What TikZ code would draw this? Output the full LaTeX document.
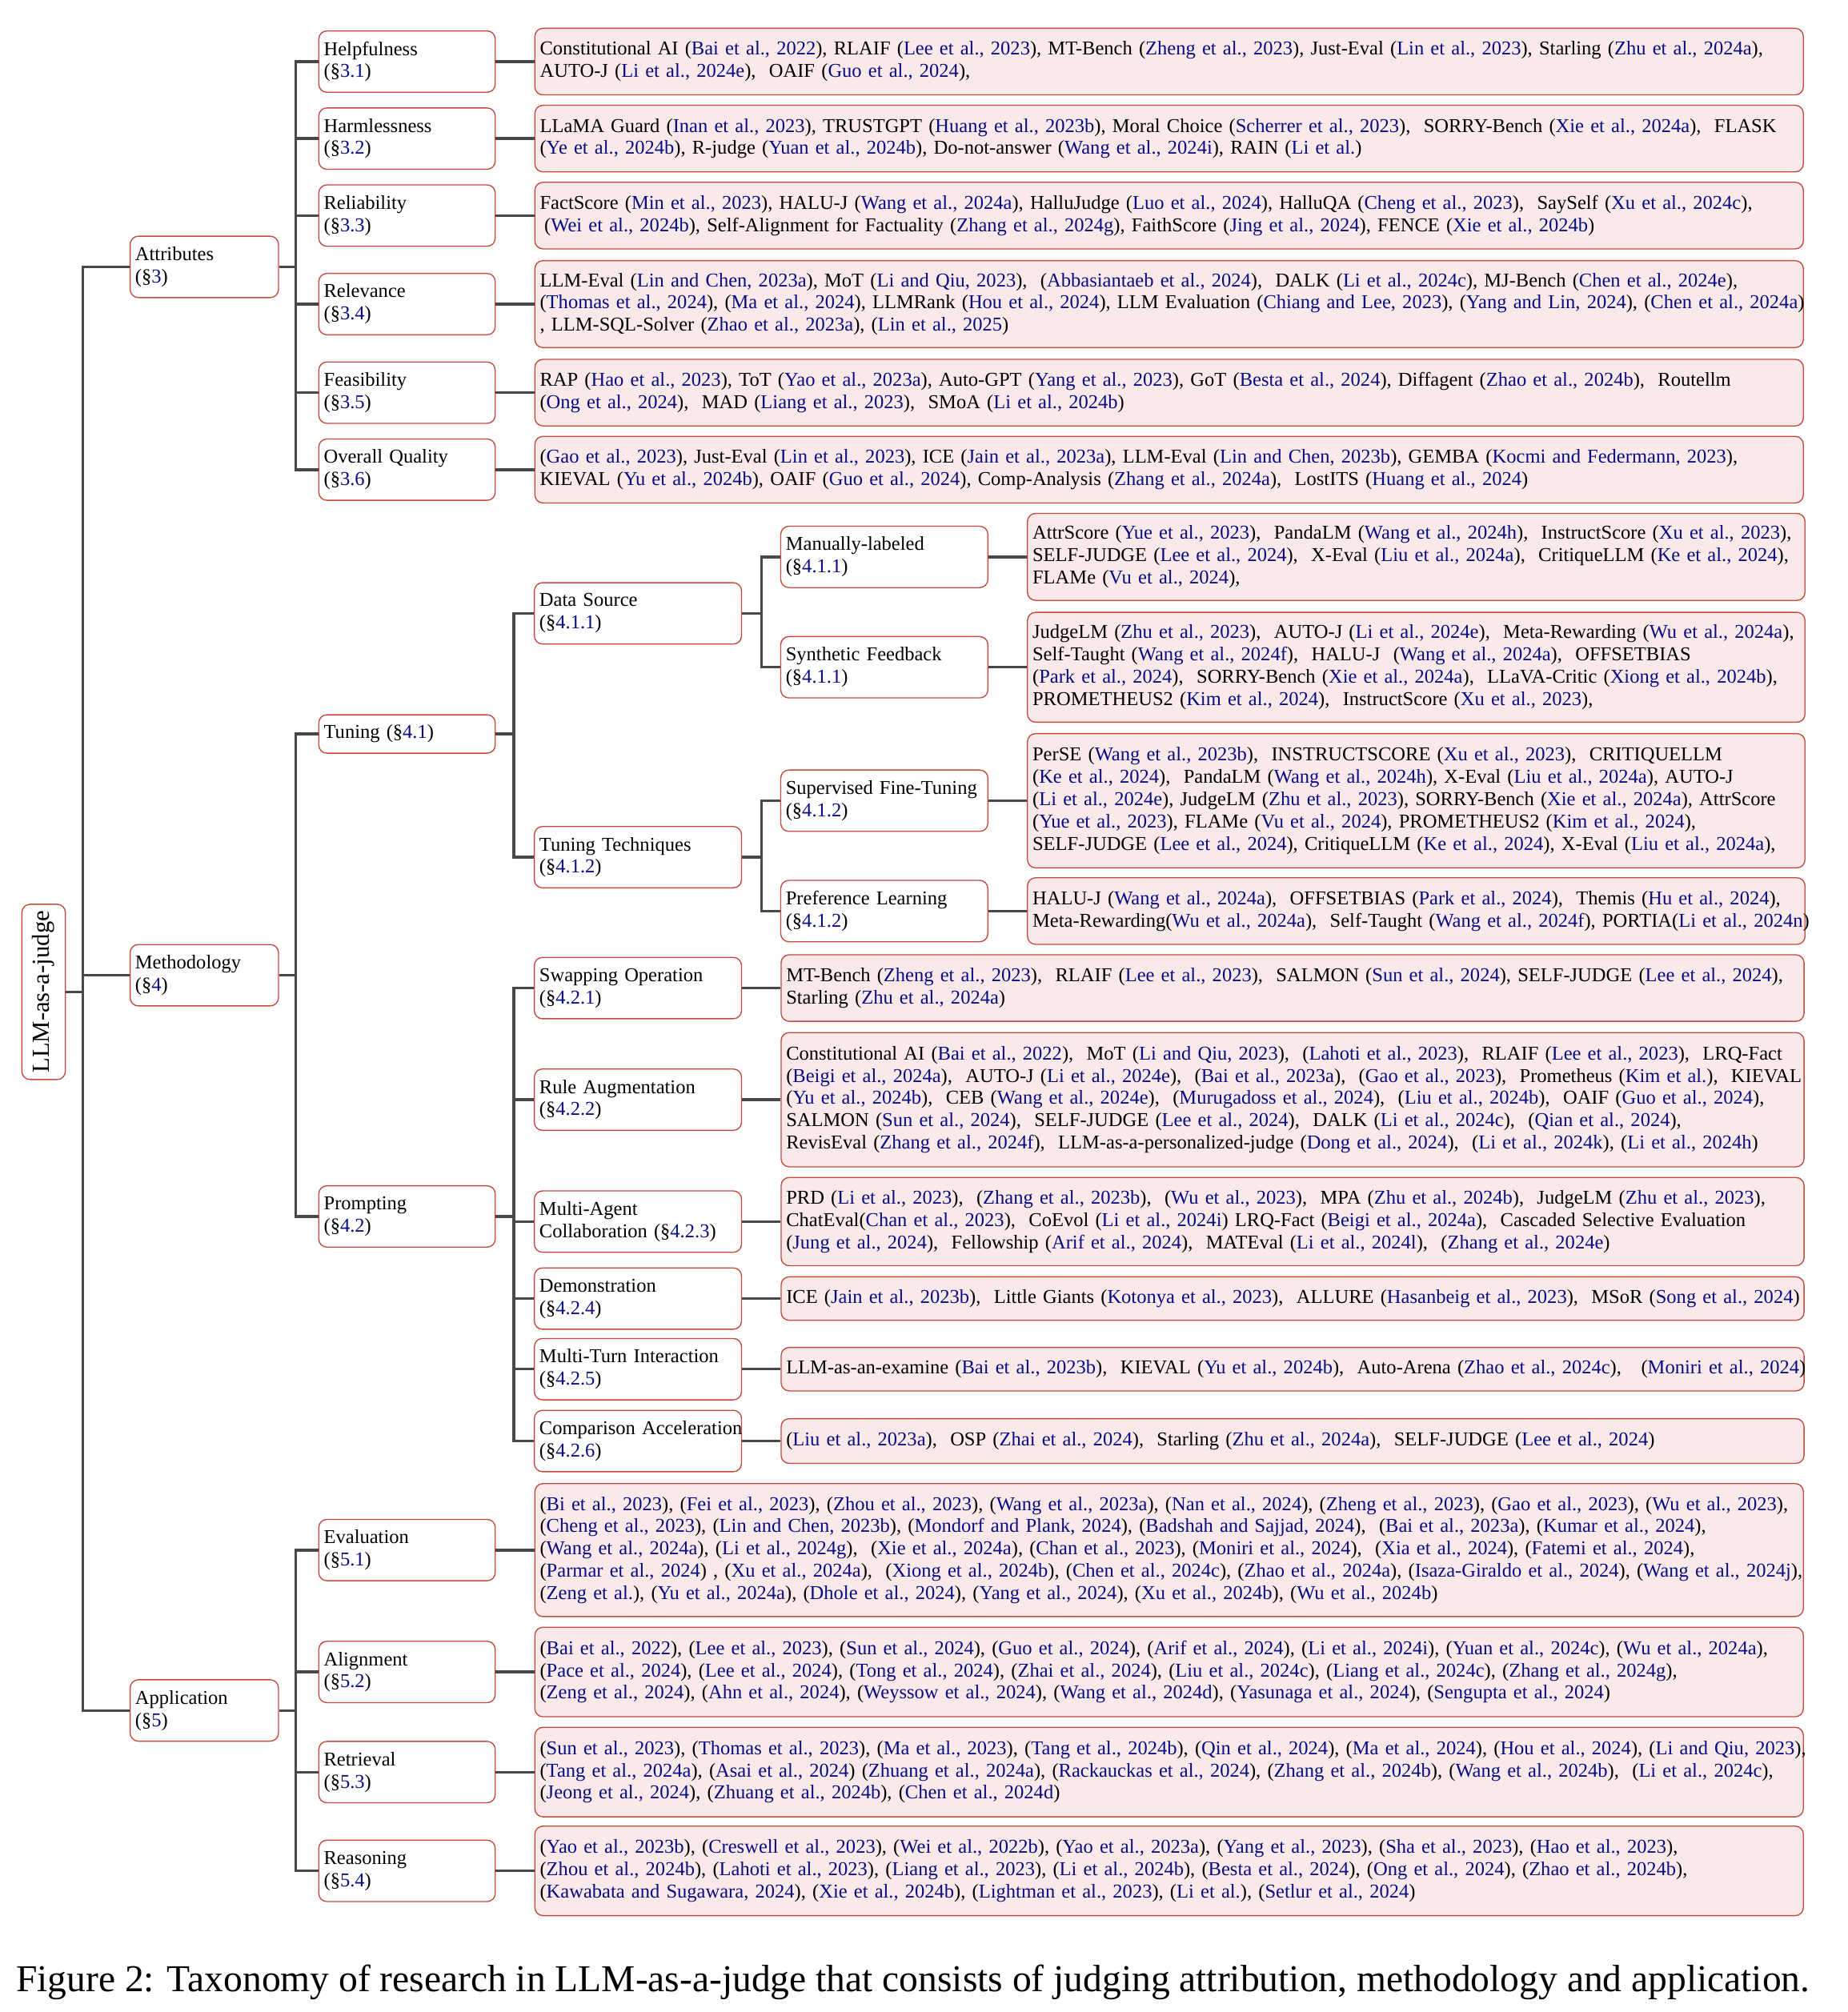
\documentclass[tikz,border=0pt]{standalone}
\usepackage{fontspec}
\setmainfont{Liberation Serif}
\usepackage{graphicx}
\usetikzlibrary{positioning}

\definecolor{boxred}{RGB}{197,74,62}
\definecolor{leafpink}{RGB}{249,234,233}
\definecolor{citeblue}{RGB}{8,12,130}
\definecolor{linegray}{RGB}{72,72,72}

\def\cp#1{(\textcolor{citeblue}{#1})}
\def\sr#1{(\S\textcolor{citeblue}{#1})}

\tikzset{
  box/.style={draw=boxred, line width=0.6pt, rounded corners=4.5pt, fill=white, anchor=west, align=left, inner xsep=2.8pt, inner ysep=1pt, font=\fontsize{10.88}{12.35}\selectfont},
  topic/.style={box, text width=76.6pt, minimum height=34pt},
  aspect/.style={box, text width=92.2pt, minimum height=34pt},
  method/.style={box, text width=109.2pt, minimum height=34pt},
  leaf/.style={box, fill=leafpink, text width=#1},
  branch/.style={draw=linegray, line width=1.5pt},
}

\begin{document}
\begin{tikzpicture}[x=0.025cm, y=-0.025cm, node distance=0.75cm]
  \useasboundingbox (0,0) rectangle (1440,1568);

  %%%%% ROOT %%%%%
  \node[box, rotate=90, anchor=center, align=center, minimum width=97.1pt, minimum height=24.1pt, font=\fontsize{13.6}{15}\selectfont] (root) at (34,773) {LLM-as-a-judge};

  \node[topic] (attr) at (101,208) {Attributes\\\sr{3}};
  \node[topic] (meth) at (101,760) {Methodology\\\sr{4}};
  \node[topic] (appl) at (101,1333) {Application\\\sr{5}};

  %%%%% ATTRIBUTES %%%%%
  \node[aspect] (help) at (248,48) {Helpfulness\\\sr{3.1}};
  \node[aspect] (harm) at (248,108) {Harmlessness\\\sr{3.2}};
  \node[aspect] (reli) at (248,168) {Reliability\\\sr{3.3}};
  \node[aspect] (rele) at (248,237) {Relevance\\\sr{3.4}};
  \node[aspect] (feas) at (248,306) {Feasibility\\\sr{3.5}};
  \node[aspect] (qual) at (248,366) {Overall Quality\\\sr{3.6}};

  \node[leaf=697.4pt, minimum height=36.9pt, right=of help] (helpL) {Constitutional AI \cp{Bai et al., 2022}, RLAIF \cp{Lee et al., 2023}, MT-Bench \cp{Zheng et al., 2023}, Just-Eval \cp{Lin et al., 2023}, Starling \cp{Zhu et al., 2024a},\\AUTO-J \cp{Li et al., 2024e},~ OAIF \cp{Guo et al., 2024},};
  \node[leaf=697.4pt, minimum height=36.9pt, right=of harm] (harmL) {\mbox{LLaMA Guard \cp{Inan et al., 2023}, TRUSTGPT \cp{Huang et al., 2023b}, Moral Choice \cp{Scherrer et al., 2023},~ SORRY-Bench \cp{Xie et al., 2024a},~ FLASK}\\\cp{Ye et al., 2024b}, R-judge \cp{Yuan et al., 2024b}, Do-not-answer \cp{Wang et al., 2024i}, RAIN \cp{Li et al.}};
  \node[leaf=697.4pt, minimum height=36.9pt, right=of reli] (reliL) {FactScore \cp{Min et al., 2023}, HALU-J \cp{Wang et al., 2024a}, HalluJudge \cp{Luo et al., 2024}, HalluQA \cp{Cheng et al., 2023},~ SaySelf \cp{Xu et al., 2024c},\\\hspace*{2.5pt}\cp{Wei et al., 2024b}, Self-Alignment for Factuality \cp{Zhang et al., 2024g}, FaithScore \cp{Jing et al., 2024}, FENCE \cp{Xie et al., 2024b}};
  \node[leaf=697.4pt, minimum height=48.2pt, right=of rele] (releL) {LLM-Eval \cp{Lin and Chen, 2023a}, MoT \cp{Li and Qiu, 2023},~ \cp{Abbasiantaeb et al., 2024},~ DALK \cp{Li et al., 2024c}, MJ-Bench \cp{Chen et al., 2024e},\\\mbox{\cp{Thomas et al., 2024}, \cp{Ma et al., 2024}, LLMRank \cp{Hou et al., 2024}, LLM Evaluation \cp{Chiang and Lee, 2023}, \cp{Yang and Lin, 2024}, \cp{Chen et al., 2024a}}\\, LLM-SQL-Solver \cp{Zhao et al., 2023a}, \cp{Lin et al., 2025}};
  \node[leaf=697.4pt, minimum height=36.9pt, right=of feas] (feasL) {RAP \cp{Hao et al., 2023}, ToT \cp{Yao et al., 2023a}, Auto-GPT \cp{Yang et al., 2023}, GoT \cp{Besta et al., 2024}, Diffagent \cp{Zhao et al., 2024b},~ Routellm\\\cp{Ong et al., 2024},~ MAD \cp{Liang et al., 2023},~ SMoA \cp{Li et al., 2024b}};
  \node[leaf=697.4pt, minimum height=36.9pt, right=of qual] (qualL) {\cp{Gao et al., 2023}, Just-Eval \cp{Lin et al., 2023}, ICE \cp{Jain et al., 2023a}, LLM-Eval \cp{Lin and Chen, 2023b}, GEMBA \cp{Kocmi and Federmann, 2023},\\KIEVAL \cp{Yu et al., 2024b}, OAIF \cp{Guo et al., 2024}, Comp-Analysis \cp{Zhang et al., 2024a},~ LostITS \cp{Huang et al., 2024}};

  %%%%% METHODOLOGY %%%%%
  \node[aspect, minimum height=21.3pt] (tune) at (248,572) {Tuning \sr{4.1}};
  \node[aspect] (prom) at (248,948) {Prompting\\\sr{4.2}};

  \node[method] (dsrc) at (416,478) {Data Source\\\sr{4.1.1}};
  \node[method] (ttech) at (416,668) {Tuning Techniques\\\sr{4.1.2}};

  \node[method] (manu) at (608,434) {Manually-labeled\\\sr{4.1.1}};
  \node[method] (synt) at (608,520) {Synthetic Feedback\\\sr{4.1.1}};
  \node[method] (sft) at (608,624) {\mbox{Supervised Fine-Tuning}\\\sr{4.1.2}};
  \node[method] (pref) at (608,710) {Preference Learning\\\sr{4.1.2}};

  \node[leaf=425.3pt, minimum height=48.2pt, right=of manu] (manuL) {\mbox{AttrScore \cp{Yue et al., 2023},~ PandaLM \cp{Wang et al., 2024h},~ InstructScore \cp{Xu et al., 2023},}\\\mbox{SELF-JUDGE \cp{Lee et al., 2024},~ X-Eval \cp{Liu et al., 2024a},~ CritiqueLLM \cp{Ke et al., 2024},}\\FLAMe \cp{Vu et al., 2024},};
  \node[leaf=425.3pt, minimum height=60.9pt, right=of synt] (syntL) {\mbox{JudgeLM \cp{Zhu et al., 2023},~ AUTO-J \cp{Li et al., 2024e},~ Meta-Rewarding \cp{Wu et al., 2024a},}\\Self-Taught \cp{Wang et al., 2024f},~ HALU-J~ \cp{Wang et al., 2024a},~ OFFSETBIAS\\\mbox{\cp{Park et al., 2024},~ SORRY-Bench \cp{Xie et al., 2024a},~ LLaVA-Critic \cp{Xiong et al., 2024b},}\\PROMETHEUS2 \cp{Kim et al., 2024},~ InstructScore \cp{Xu et al., 2023},};
  \node[leaf=425.3pt, minimum height=74.4pt, right=of sft] (sftL) {PerSE \cp{Wang et al., 2023b},~ INSTRUCTSCORE \cp{Xu et al., 2023},~ CRITIQUELLM\\\cp{Ke et al., 2024},~ PandaLM \cp{Wang et al., 2024h}, X-Eval \cp{Liu et al., 2024a}, AUTO-J\\\mbox{\cp{Li et al., 2024e}, JudgeLM \cp{Zhu et al., 2023}, SORRY-Bench \cp{Xie et al., 2024a}, AttrScore}\\\cp{Yue et al., 2023}, FLAMe \cp{Vu et al., 2024}, PROMETHEUS2 \cp{Kim et al., 2024},\\\mbox{SELF-JUDGE \cp{Lee et al., 2024}, CritiqueLLM \cp{Ke et al., 2024}, X-Eval \cp{Liu et al., 2024a},}};
  \node[leaf=425.3pt, minimum height=36.9pt, right=of pref] (prefL) {\mbox{HALU-J \cp{Wang et al., 2024a},~ OFFSETBIAS \cp{Park et al., 2024},~ Themis \cp{Hu et al., 2024},}\\\mbox{Meta-Rewarding\cp{Wu et al., 2024a},~ Self-Taught \cp{Wang et al., 2024f}, PORTIA\cp{Li et al., 2024n}}};

  \node[method] (swap) at (416,770) {Swapping Operation\\\sr{4.2.1}};
  \node[method] (rule) at (416,857) {Rule Augmentation\\\sr{4.2.2}};
  \node[method] (multi) at (416,952) {Multi-Agent\\Collaboration \sr{4.2.3}};
  \node[method] (demo) at (416,1012) {Demonstration\\\sr{4.2.4}};
  \node[method] (turn) at (416,1067) {Multi-Turn Interaction\\\sr{4.2.5}};
  \node[method] (comp) at (416,1123) {\mbox{Comparison Acceleration}\\\sr{4.2.6}};

  \node[leaf=561.3pt, minimum height=36.9pt, right=of swap] (swapL) {\mbox{MT-Bench \cp{Zheng et al., 2023},~ RLAIF \cp{Lee et al., 2023},~ SALMON \cp{Sun et al., 2024}, SELF-JUDGE \cp{Lee et al., 2024},}\\Starling \cp{Zhu et al., 2024a}};
  \node[leaf=561.3pt, minimum height=74.4pt, right=of rule] (ruleL) {Constitutional AI \cp{Bai et al., 2022},~ MoT \cp{Li and Qiu, 2023},~ \cp{Lahoti et al., 2023},~ RLAIF \cp{Lee et al., 2023},~ LRQ-Fact\\\mbox{\cp{Beigi et al., 2024a},~ AUTO-J \cp{Li et al., 2024e},~ \cp{Bai et al., 2023a},~ \cp{Gao et al., 2023},~ Prometheus \cp{Kim et al.},~ KIEVAL}\\\cp{Yu et al., 2024b},~ CEB \cp{Wang et al., 2024e},~ \cp{Murugadoss et al., 2024},~ \cp{Liu et al., 2024b},~ OAIF \cp{Guo et al., 2024},\\SALMON \cp{Sun et al., 2024},~ SELF-JUDGE \cp{Lee et al., 2024},~ DALK \cp{Li et al., 2024c},~ \cp{Qian et al., 2024},\\RevisEval \cp{Zhang et al., 2024f},~ LLM-as-a-personalized-judge \cp{Dong et al., 2024},~ \cp{Li et al., 2024k}, \cp{Li et al., 2024h}};
  \node[leaf=561.3pt, minimum height=48.9pt, right=of multi] (multiL) {PRD \cp{Li et al., 2023},~ \cp{Zhang et al., 2023b},~ \cp{Wu et al., 2023},~ MPA \cp{Zhu et al., 2024b},~ JudgeLM \cp{Zhu et al., 2023},\\ChatEval\cp{Chan et al., 2023},~ CoEvol \cp{Li et al., 2024i} LRQ-Fact \cp{Beigi et al., 2024a},~ Cascaded Selective Evaluation\\\cp{Jung et al., 2024},~ Fellowship \cp{Arif et al., 2024},~ MATEval \cp{Li et al., 2024l},~ \cp{Zhang et al., 2024e}};
  \node[leaf=561.3pt, minimum height=24.1pt, right=of demo] (demoL) {\mbox{ICE \cp{Jain et al., 2023b},~ Little Giants \cp{Kotonya et al., 2023},~ ALLURE \cp{Hasanbeig et al., 2023},~ MSoR \cp{Song et al., 2024}}};
  \node[leaf=561.3pt, minimum height=24.1pt, right=of turn] (turnL) {\mbox{LLM-as-an-examine \cp{Bai et al., 2023b},~ KIEVAL \cp{Yu et al., 2024b},~ Auto-Arena \cp{Zhao et al., 2024c},~~ \cp{Moniri et al., 2024}}};
  \node[leaf=561.3pt, minimum height=24.8pt, right=of comp] (compL) {\cp{Liu et al., 2023a},~ OSP \cp{Zhai et al., 2024},~ Starling \cp{Zhu et al., 2024a},~ SELF-JUDGE \cp{Lee et al., 2024}};

  %%%%% APPLICATION %%%%%
  \node[aspect] (eval) at (248,1208) {Evaluation\\\sr{5.1}};
  \node[aspect] (aln) at (248,1303) {Alignment\\\sr{5.2}};
  \node[aspect] (retr) at (248,1381) {Retrieval\\\sr{5.3}};
  \node[aspect] (reas) at (248,1458) {Reasoning\\\sr{5.4}};

  \node[leaf=697.4pt, minimum height=73.7pt, right=of eval] (evalL) {\mbox{\cp{Bi et al., 2023}, \cp{Fei et al., 2023}, \cp{Zhou et al., 2023}, \cp{Wang et al., 2023a}, \cp{Nan et al., 2024}, \cp{Zheng et al., 2023}, \cp{Gao et al., 2023}, \cp{Wu et al., 2023},}\\\cp{Cheng et al., 2023}, \cp{Lin and Chen, 2023b}, \cp{Mondorf and Plank, 2024}, \cp{Badshah and Sajjad, 2024},~ \cp{Bai et al., 2023a}, \cp{Kumar et al., 2024},\\\cp{Wang et al., 2024a}, \cp{Li et al., 2024g},~ \cp{Xie et al., 2024a}, \cp{Chan et al., 2023}, \cp{Moniri et al., 2024},~ \cp{Xia et al., 2024}, \cp{Fatemi et al., 2024},\\\mbox{\cp{Parmar et al., 2024} , \cp{Xu et al., 2024a},~ \cp{Xiong et al., 2024b}, \cp{Chen et al., 2024c}, \cp{Zhao et al., 2024a}, \cp{Isaza-Giraldo et al., 2024}, \cp{Wang et al., 2024j},}\\\cp{Zeng et al.}, \cp{Yu et al., 2024a}, \cp{Dhole et al., 2024}, \cp{Yang et al., 2024}, \cp{Xu et al., 2024b}, \cp{Wu et al., 2024b}};
  \node[leaf=697.4pt, minimum height=49.6pt, right=of aln] (alnL) {\mbox{\cp{Bai et al., 2022}, \cp{Lee et al., 2023}, \cp{Sun et al., 2024}, \cp{Guo et al., 2024}, \cp{Arif et al., 2024}, \cp{Li et al., 2024i}, \cp{Yuan et al., 2024c}, \cp{Wu et al., 2024a},}\\\cp{Pace et al., 2024}, \cp{Lee et al., 2024}, \cp{Tong et al., 2024}, \cp{Zhai et al., 2024}, \cp{Liu et al., 2024c}, \cp{Liang et al., 2024c}, \cp{Zhang et al., 2024g},\\\cp{Zeng et al., 2024}, \cp{Ahn et al., 2024}, \cp{Weyssow et al., 2024}, \cp{Wang et al., 2024d}, \cp{Yasunaga et al., 2024}, \cp{Sengupta et al., 2024}};
  \node[leaf=697.4pt, minimum height=49.6pt, right=of retr] (retrL) {\mbox{\cp{Sun et al., 2023}, \cp{Thomas et al., 2023}, \cp{Ma et al., 2023}, \cp{Tang et al., 2024b}, \cp{Qin et al., 2024}, \cp{Ma et al., 2024}, \cp{Hou et al., 2024}, \cp{Li and Qiu, 2023},}\\\cp{Tang et al., 2024a}, \cp{Asai et al., 2024} \cp{Zhuang et al., 2024a}, \cp{Rackauckas et al., 2024}, \cp{Zhang et al., 2024b}, \cp{Wang et al., 2024b},~ \cp{Li et al., 2024c},\\\cp{Jeong et al., 2024}, \cp{Zhuang et al., 2024b}, \cp{Chen et al., 2024d}};
  \node[leaf=697.4pt, minimum height=49.6pt, right=of reas] (reasL) {\cp{Yao et al., 2023b}, \cp{Creswell et al., 2023}, \cp{Wei et al., 2022b}, \cp{Yao et al., 2023a}, \cp{Yang et al., 2023}, \cp{Sha et al., 2023}, \cp{Hao et al., 2023},\\\cp{Zhou et al., 2024b}, \cp{Lahoti et al., 2023}, \cp{Liang et al., 2023}, \cp{Li et al., 2024b}, \cp{Besta et al., 2024}, \cp{Ong et al., 2024}, \cp{Zhao et al., 2024b},\\\cp{Kawabata and Sugawara, 2024}, \cp{Xie et al., 2024b}, \cp{Lightman et al., 2023}, \cp{Li et al.}, \cp{Setlur et al., 2024}};

  %%%%% BRANCHES %%%%%
  \draw[branch] (root.south) -- ++(13,0) |- (attr.west);
  \draw[branch] (root.south) -- ++(13,0) |- (meth.west);
  \draw[branch] (root.south) -- ++(13,0) |- (appl.west);

  \draw[branch] (attr.east) -- ++(13,0) |- (help.west);
  \draw[branch] (attr.east) -- ++(13,0) |- (harm.west);
  \draw[branch] (attr.east) -- ++(13,0) |- (reli.west);
  \draw[branch] (attr.east) -- ++(13,0) |- (rele.west);
  \draw[branch] (attr.east) -- ++(13,0) |- (feas.west);
  \draw[branch] (attr.east) -- ++(13,0) |- (qual.west);

  \draw[branch] (meth.east) -- ++(13,0) |- (tune.west);
  \draw[branch] (meth.east) -- ++(13,0) |- (prom.west);
  \draw[branch] (tune.east) -- ++(14,0) |- (dsrc.west);
  \draw[branch] (tune.east) -- ++(14,0) |- (ttech.west);
  \draw[branch] (dsrc.east) -- ++(15,0) |- (manu.west);
  \draw[branch] (dsrc.east) -- ++(15,0) |- (synt.west);
  \draw[branch] (ttech.east) -- ++(15,0) |- (sft.west);
  \draw[branch] (ttech.east) -- ++(15,0) |- (pref.west);
  \draw[branch] (prom.east) -- ++(14,0) |- (swap.west);
  \draw[branch] (prom.east) -- ++(14,0) |- (rule.west);
  \draw[branch] (prom.east) -- ++(14,0) |- (multi.west);
  \draw[branch] (prom.east) -- ++(14,0) |- (demo.west);
  \draw[branch] (prom.east) -- ++(14,0) |- (turn.west);
  \draw[branch] (prom.east) -- ++(14,0) |- (comp.west);

  \draw[branch] (appl.east) -- ++(13,0) |- (eval.west);
  \draw[branch] (appl.east) -- ++(13,0) |- (aln.west);
  \draw[branch] (appl.east) -- ++(13,0) |- (retr.west);
  \draw[branch] (appl.east) -- ++(13,0) |- (reas.west);

  \draw[branch] (help.east) -- (helpL.west);
  \draw[branch] (harm.east) -- (harmL.west);
  \draw[branch] (reli.east) -- (reliL.west);
  \draw[branch] (rele.east) -- (releL.west);
  \draw[branch] (feas.east) -- (feasL.west);
  \draw[branch] (qual.east) -- (qualL.west);
  \draw[branch] (manu.east) -- (manuL.west);
  \draw[branch] (synt.east) -- (syntL.west);
  \draw[branch] (sft.east) -- (sftL.west);
  \draw[branch] (pref.east) -- (prefL.west);
  \draw[branch] (swap.east) -- (swapL.west);
  \draw[branch] (rule.east) -- (ruleL.west);
  \draw[branch] (multi.east) -- (multiL.west);
  \draw[branch] (demo.east) -- (demoL.west);
  \draw[branch] (turn.east) -- (turnL.west);
  \draw[branch] (comp.east) -- (compL.west);
  \draw[branch] (eval.east) -- (evalL.west);
  \draw[branch] (aln.east) -- (alnL.west);
  \draw[branch] (retr.east) -- (retrL.west);
  \draw[branch] (reas.east) -- (reasL.west);

  %%%%% CAPTION %%%%%
  \node[anchor=base] (cap) at (711.5,1552) {\resizebox{994pt}{!}{Figure 2: Taxonomy of research in LLM-as-a-judge that consists of judging attribution, methodology and application.}};
\end{tikzpicture}
\end{document}
